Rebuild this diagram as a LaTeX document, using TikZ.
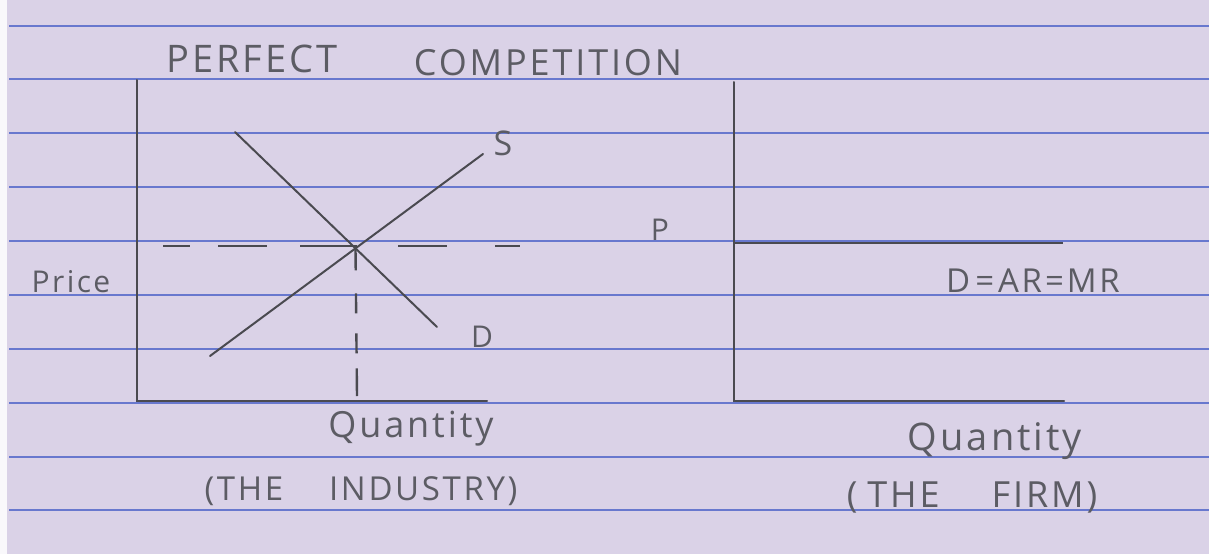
\documentclass[tikz,border=0pt]{standalone}
\usepackage{fontspec}
\newfontfamily\elYazi[LetterSpace=8]{Open Sans}
\usetikzlibrary{positioning}
\definecolor{kagitMor}{HTML}{DAD2E7}
\definecolor{cizgiMavi}{HTML}{6878CE}
\definecolor{kursunGri}{HTML}{4A4A50}
\definecolor{yaziGri}{HTML}{5C5C64}
\tikzset{
  kursun/.style={kursunGri,line width=2pt,line cap=round},
  kesikli/.style={kursunGri,line width=2.4pt},
  yazi/.style={yaziGri,anchor=base,inner sep=0pt,font=\elYazi\fontsize{#1}{#1}\selectfont},
  yazi/.default=30
}

\begin{document}
\begin{tikzpicture}[x=1pt,y=-1pt]
\useasboundingbox (0,0) rectangle (1209,554);
\fill[kagitMor] (7,0) rectangle (1209,554);
\fill[white!85!kagitMor] (0,0) rectangle (7,554);
\foreach \y in {26,79,133,187,241,295,349,403,457,510}
  \draw[cizgiMavi,line width=1.1pt] (9,\y)--(1209,\y);
% the industry
\coordinate (oL) at (137,401);
\coordinate (yL) at (137,80);
\coordinate (xL) at (487,401);
\draw[kursun] (yL)--(oL)--(xL);
\coordinate (s0) at (210,356);
\coordinate (s1) at (483,154);
\coordinate (d0) at (235,132);
\coordinate (d1) at (437,327);
\draw[kursun] (s0)--(s1);
\draw[kursun] (d0)--(d1);
\coordinate (eq) at (intersection of s0--s1 and d0--d1);
\coordinate (pL0) at (163,246);
\coordinate (pL1) at (520,246);
\coordinate (qL) at (357,396);
\draw[kesikli,dash pattern=on 27pt off 28pt on 49pt off 33pt on 57pt off 41pt on 49pt off 48pt on 25pt]
  (pL0)--(pL1);
\draw[kesikli,dash pattern=on 22pt off 23pt on 20pt off 20pt on 20pt off 15pt on 28pt]
  (eq)--(qL);
\node[yazi=34] (lblS) at (503,155) {S};
\node[yazi=30] (lblD) at (482,347) {D};
\node[yazi=30] (lblPrice) at (71,292) {Price};
\node[yazi=36] (qInd) at (411,437) {Quantity};
\node[yazi=33] (thInd) at (361,500) {(THE\hspace{46pt}INDUSTRY)};
% the firm
\coordinate (oR) at (734,401);
\coordinate (yR) at (734,82);
\coordinate (xR) at (1064,401);
\draw[kursun] (yR)--(oR)--(xR);
\coordinate (pR0) at (734,243);
\coordinate (pR1) at (1063,243);
\draw[kursun,line width=2.8pt,line cap=butt] (pR0)--(pR1);
\node[yazi=30] (lblP) at (660,240) {P};
\node[yazi=33] (lblAR) at (1033,292) {D\hspace{5pt}=\hspace{4pt}AR\hspace{3pt}=\hspace{3pt}MR};
\node[yazi=38] (qFirm) at (995,450) {Quantity};
\node[yazi=36] (thFirm) at (972,507) {(\hspace{10pt}THE\hspace{52pt}FIRM)};
% title
\node[yazi=38] (tPerfect) at (252,72) {PERFECT};
\node[yazi=36] (tComp) at (548,75) {COMPETITION};
\end{tikzpicture}
\end{document}
